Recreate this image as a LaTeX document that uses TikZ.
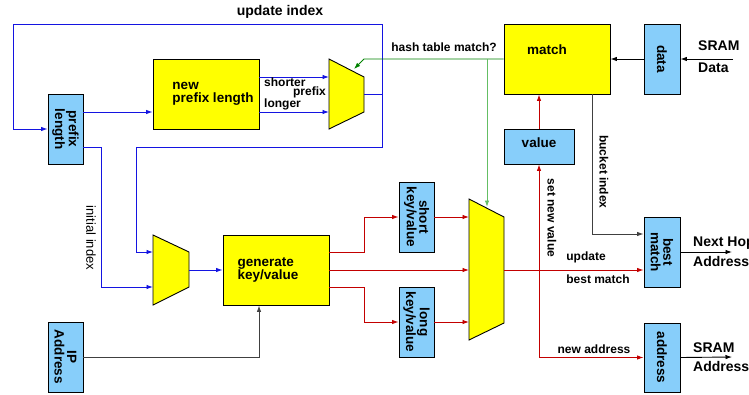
\documentclass[tikz,border=0pt]{standalone}
\usepackage{fontspec}
\setmainfont{Liberation Sans}
\usetikzlibrary{arrows.meta}
\definecolor{ylw}{RGB}{255,255,0}
\definecolor{lblue}{RGB}{135,206,250}
\definecolor{bl}{RGB}{20,20,225}
\definecolor{rd}{RGB}{195,0,0}
\definecolor{gdark}{RGB}{0,130,0}
\definecolor{glight}{RGB}{100,190,100}
\tikzset{
  ybox/.style={draw=black, fill=ylw, line width=0.9pt, inner sep=0pt},
  bbox/.style={draw=black, fill=lblue, line width=0.9pt, inner sep=0pt},
  muxshape/.style={draw=black, fill=ylw, line width=0.9pt},
  btxt/.style={font=\fontsize{13.5}{12.5}\selectfont\bfseries, align=left, inner sep=0pt},
  rtxt/.style={font=\fontsize{13.5}{12.5}\selectfont\bfseries, align=center, inner sep=0pt, rotate=-90},
  lbl/.style={font=\fontsize{12}{13}\selectfont\bfseries, inner sep=0pt},
  biglbl/.style={font=\fontsize{14}{18}\selectfont\bfseries, inner sep=0pt},
  wire/.style={line width=0.9pt, -{Latex[length=6.5pt,width=4.5pt]}},
  plain/.style={line width=0.9pt}
}
\begin{document}
\begin{tikzpicture}[x=1pt,y=-1pt]
\useasboundingbox (0,0) rectangle (749,394);
% boxes
\node[bbox, minimum width=35pt, minimum height=70pt] (plen) at (65.5,129) {};
\node[rtxt] (plent) at (plen.center) {prefix\\length};
\node[ybox, minimum width=106pt, minimum height=70pt] (np) at (206,94) {};
\node[btxt] (npt) at (213,94) {new\\prefix length};
\node[ybox, minimum width=106pt, minimum height=70pt] (gen) at (276,270) {};
\node[btxt] (gent) at (268,270) {generate\\key/value};
\node[bbox, minimum width=35pt, minimum height=70pt] (ip) at (65.5,357) {};
\node[rtxt] (ipt) at (ip.center) {IP\\Address};
\node[bbox, minimum width=35pt, minimum height=70pt] (short) at (416.5,217) {};
\node[rtxt] (shortt) at (short.center) {short\\key/value};
\node[bbox, minimum width=35pt, minimum height=70pt] (long) at (416.5,322) {};
\node[rtxt] (longt) at (long.center) {long\\key/value};
\node[ybox, minimum width=106pt, minimum height=70pt] (match) at (557,59) {};
\node[btxt] (matcht) at (547,50) {match};
\node[bbox, minimum width=70pt, minimum height=35pt] (value) at (539,146.5) {};
\node[btxt] (valuet) at (539,143) {value};
\node[bbox, minimum width=36pt, minimum height=70pt] (data) at (662,59) {};
\node[rtxt] (datat) at (data.center) {data};
\node[bbox, minimum width=36pt, minimum height=70pt] (bm) at (662,252) {};
\node[rtxt] (bmt) at (bm.center) {best\\match};
\node[bbox, minimum width=36pt, minimum height=69pt] (addr) at (662,357.5) {};
\node[rtxt] (addrt) at (addr.center) {address};
% muxes
\draw[muxshape] (329,59) -- (364,77) -- (364,112) -- (329,129) -- cycle;
\draw[muxshape] (153,235) -- (189,252) -- (189,287) -- (153,305) -- cycle;
\draw[muxshape] (469,199) -- (504,217) -- (504,323) -- (469,340) -- cycle;
\coordinate (m1a) at (329,77);
\coordinate (m1b) at (329,112);
\coordinate (m1o) at (364,94);
\coordinate (m2a) at (153,252);
\coordinate (m2b) at (153,287);
\coordinate (m2o) at (189,270);
\coordinate (m3a) at (469,217);
\coordinate (m3b) at (469,322);
\coordinate (m3c) at (469,270);
\coordinate (m3o) at (504,270);
\coordinate (j1) at (382,94);
\coordinate (j2) at (382,147);
\coordinate (j3) at (539,270);
\coordinate (bk) at (592,234);
\coordinate (ipc) at (259,357);
\coordinate (nho) at (732,252);
\coordinate (sao) at (732,357);
\coordinate (sramin) at (733,59);
\coordinate (gk) at (364,59);
\coordinate (gt) at (354,69);
\coordinate (gv) at (487,59);
\coordinate (gvt) at (487,207);
% blue wires
\draw[wire, bl] (m1o) -- (j1) -- (382,24) -- (13,24) |- (plen.west);
\draw[wire, bl] (j1) -- (j2) -- (136,147) |- (m2a);
\draw[wire, bl] (plen.east |- m1b) -- (np.west |- m1b);
\draw[wire, bl] (np.east |- m1a) -- (m1a);
\draw[wire, bl] (np.east |- m1b) -- (m1b);
\draw[wire, bl] (plen.east |- j2) -- (101,147) |- (m2b);
\draw[wire, bl] (m2o) -- (gen.west);
% red wires
\draw[wire, rd] (gen.east |- m2a) -- (364,252) |- (short.west);
\draw[wire, rd] (gen.east) -- (m3c);
\draw[wire, rd] (gen.east |- m2b) -- (364,287) |- (long.west);
\draw[wire, rd] (short.east) -- (m3a);
\draw[wire, rd] (long.east) -- (m3b);
\draw[wire, rd] (m3o) -- (bm.west |- m3o);
\draw[wire, rd] (j3) -- (value.south);
\draw[wire, rd] (j3) |- (addr.west);
\draw[wire, rd] (value.north) -- (match.south -| value.north);
% black wires
\draw[wire, black] (data.west) -- (match.east);
\draw[wire, black] (sramin) -- (data.east);
\draw[wire, black!75] (match.south -| bk) -- (bk) -- (bm.west |- bk);
\draw[wire, black!75] (ip.east) -- (ipc) -- (gen.south -| ipc);
\draw[wire, black] (bm.east) -- (nho);
\draw[wire, black] (addr.east) -- (sao);
% green wires
\draw[wire, gdark] (match.west) -- (gk) -- (gt);
\draw[wire, glight] (gv) -- (gvt);
% labels
\node[biglbl] (l1) at (280,12) {update index};
\node[lbl] (l2) at (444,47) {hash table match?};
\node[lbl, anchor=west] (l3) at (264,82) {shorter};
\node[lbl, anchor=east] (l4) at (326,92) {prefix};
\node[lbl, anchor=west] (l5) at (264,104) {longer};
\node[font=\fontsize{13}{14}\selectfont, inner sep=0pt, rotate=-90] (l6) at (91,238) {initial index};
\node[lbl, rotate=-90] (l7) at (604,172) {bucket index};
\node[lbl, rotate=-90] (l8) at (552,218) {set new value};
\node[lbl] (l9) at (586,257) {update};
\node[lbl] (l10) at (598,279) {best match};
\node[lbl] (l11) at (594,349) {new address};
\node[biglbl, anchor=west] (l12) at (693,243) {Next Hop};
\node[biglbl, anchor=west] (l13) at (693,261) {Address};
\node[biglbl, anchor=west] (l14) at (693,348) {SRAM};
\node[biglbl, anchor=west] (l15) at (693,366) {Address};
\node[biglbl, anchor=west] (l16) at (698,46) {SRAM};
\node[biglbl, anchor=west] (l17) at (698,68) {Data};
\end{tikzpicture}
\end{document}
